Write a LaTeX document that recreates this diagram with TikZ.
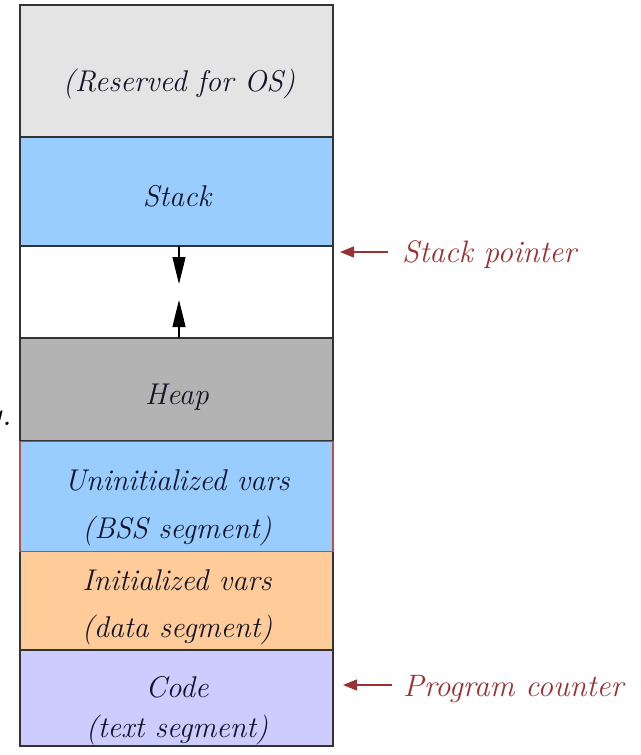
\documentclass[tikz,border=0pt]{standalone}
\usetikzlibrary{arrows.meta}
\definecolor{osgray}{HTML}{E4E4E4}
\definecolor{stackblue}{HTML}{99CCFF}
\definecolor{heapgray}{HTML}{B3B3B3}
\definecolor{dataorange}{HTML}{FFCC99}
\definecolor{codelilac}{HTML}{CCCCFF}
\definecolor{edge}{HTML}{333333}
\definecolor{bssedge}{HTML}{B05050}
\definecolor{ink}{HTML}{141428}
\definecolor{labelred}{HTML}{993333}
\tikzset{
  seg/.style={draw=edge, line width=1.6pt, minimum width=313pt, inner sep=0pt,
    outer sep=0pt},
  segtext/.style={text=ink, anchor=base, inner sep=0pt,
    font=\fontsize{30}{43}\selectfont\itshape},
  growarrow/.style={draw=black, line width=1.2pt, -{Triangle[length=27pt,width=13pt]}},
  ptrarrow/.style={draw=labelred, line width=1.3pt, -{Triangle[length=14pt,width=11pt]}},
  ptrlabel/.style={text=labelred, anchor=base west, inner sep=0pt,
    font=\fontsize{31}{34}\selectfont\itshape}
}
\begin{document}
\begin{tikzpicture}[x=1pt,y=-1pt]
  \useasboundingbox[fill=white] (0,0) rectangle (640,755);
  % stray glyph cut off at the left margin
  \node[anchor=base east, inner sep=0pt, font=\fontsize{34}{36}\selectfont\itshape] (edgeglyph) at (12,425) {y.};
  % memory segments, top to bottom
  \node[seg, fill=osgray, minimum height=132pt] (os) at (176.5,71) {};
  \node[seg, fill=stackblue, minimum height=109pt] (stack) at (176.5,191.5) {};
  \node[seg, fill=white, minimum height=92pt] (gap) at (176.5,292) {};
  \node[seg, fill=heapgray, minimum height=103pt] (heap) at (176.5,389.5) {};
  \node[seg, fill=dataorange, minimum height=99pt] (data) at (176.5,600.5) {};
  \node[seg, fill=codelilac, minimum height=96pt] (code) at (176.5,698) {};
  \node[seg, draw=bssedge, fill=stackblue, minimum height=110pt] (bss) at (176.5,496.5) {};
  % segment names
  \node[segtext] (ostxt) at (179,91) {(Reserved for OS)};
  \node[segtext] (stacktxt) at (177,206) {Stack};
  \node[segtext] (heaptxt) at (177,404) {Heap};
  \node[segtext] (bsstxt1) at (177,490) {Uninitialized vars};
  \node[segtext] (bsstxt2) at (177,538) {(BSS segment)};
  \node[segtext] (datatxt1) at (177,590) {Initialized vars};
  \node[segtext] (datatxt2) at (177,637) {(data segment)};
  \node[segtext] (codetxt1) at (177,697) {Code};
  \node[segtext] (codetxt2) at (177,737) {(text segment)};
  % growth directions of stack and heap
  \coordinate (stacktip) at (179,284);
  \coordinate (heaptip) at (179,300);
  \draw[growarrow] (stack.south -| stacktip) -- (stacktip);
  \draw[growarrow] (heap.north -| heaptip) -- (heaptip);
  % register labels
  \node[ptrlabel] (sp) at (402,262) {Stack pointer};
  \node[ptrlabel] (pc) at (403,696) {Program counter};
  \coordinate (sptip) at (340,252);
  \coordinate (pctip) at (343,685);
  \draw[ptrarrow] (sp.west |- sptip) ++(-14,0) -- (sptip);
  \draw[ptrarrow] (pc.west |- pctip) ++(-11,0) -- (pctip);
\end{tikzpicture}
\end{document}
